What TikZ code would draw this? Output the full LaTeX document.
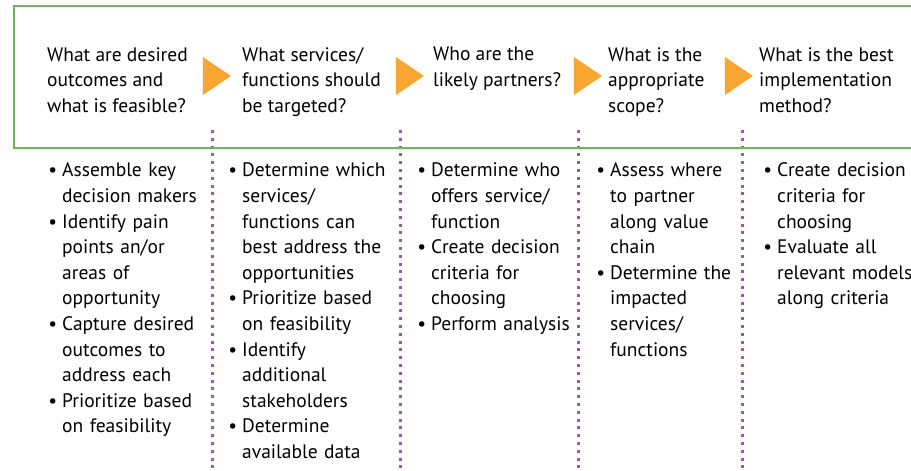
\documentclass[tikz,border=0pt]{standalone}
\usepackage{fontspec}
\setmainfont{PT Sans}
\usepackage{enumitem}
\usetikzlibrary{shapes.geometric, positioning}

\definecolor{framegreen}{RGB}{108,182,92}
\definecolor{stepsorange}{RGB}{247,166,50}
\definecolor{dividerpurple}{RGB}{155,85,175}

\setlist[itemize]{label=\textbullet, leftmargin=15pt, labelsep=5pt, itemsep=0pt, topsep=0pt, parsep=0pt, partopsep=0pt}

\begin{document}
\begin{tikzpicture}[
	x = 1pt, y = -1pt,
	question/.style = {anchor=north west, inner sep=0pt, align=left, font=\fontsize{19.5}{25.6}\selectfont},
	tasks/.style = {anchor=north west, inner sep=0pt, text width=#1, font=\fontsize{19.5}{25.6}\selectfont},
	pointer/.style = {isosceles triangle, isosceles triangle stretches, fill=stepsorange, inner sep=0pt, minimum width=38pt, minimum height=28pt},
	divider/.style = {draw=dividerpurple, line width=3pt, dash pattern=on 3pt off 4.8pt},
	frame/.style = {draw=framegreen, line width=2.5pt}
	]
	\useasboundingbox (0,0) rectangle (911,471);
	
	% Dividers
	\coordinate (d1top) at (212,130); \coordinate (d1bot) at (212,471);
	\coordinate (d2top) at (400,130); \coordinate (d2bot) at (400,471);
	\coordinate (d3top) at (578,130); \coordinate (d3bot) at (578,471);
	\coordinate (d4top) at (742,130); \coordinate (d4bot) at (742,471);
	\draw [divider] (d1top) -- (d1bot);
	\draw [divider] (d2top) -- (d2bot);
	\draw [divider] (d3top) -- (d3bot);
	\draw [divider] (d4top) -- (d4bot);
	
	% Frame
	\coordinate (ftr) at (915,6);
	\coordinate (fbr) at (915,148);
	\coordinate (ftl) at (14,6);
	\coordinate (fbl) at (14,148);
	\draw [frame] (ftr) -- (ftl) -- (fbl) -- (fbr);
	
	% Questions
	\node [question] (q1) at (47,47) {What are desired\\outcomes and\\what is feasible?};
	\node [question] (q2) at (242,47) {What services/\\functions should\\be targeted?};
	\node [question] (q3) at (433,47) {Who are the\\likely partners?};
	\node [question] (q4) at (608,47) {What is the\\appropriate\\scope?};
	\node [question] (q5) at (759,47) {What is the best\\implementation\\method?};
	
	% Pointers
	\node [pointer] (p1) at (213,76) {};
	\node [pointer] (p2) at (406,76) {};
	\node [pointer] (p3) at (584,76) {};
	\node [pointer] (p4) at (735,76) {};
	
	% Tasks
	\node [tasks=160pt] (t1) at (47,151) {\begin{itemize}
		\item Assemble key\\decision makers
		\item Identify pain\\points an/or\\areas of\\opportunity
		\item Capture desired\\outcomes to\\address each
		\item Prioritize based\\on feasibility
	\end{itemize}};
	\node [tasks=170pt] (t2) at (227,151) {\begin{itemize}
		\item Determine which\\services/\\functions can\\best address the\\opportunities
		\item Prioritize based\\on feasibility
		\item Identify\\additional\\stakeholders
		\item Determine\\available data
	\end{itemize}};
	\node [tasks=165pt] (t3) at (416,151) {\begin{itemize}
		\item Determine who\\offers service/\\function
		\item Create decision\\criteria for\\choosing
		\item Perform analysis
	\end{itemize}};
	\node [tasks=150pt] (t4) at (595,151) {\begin{itemize}
		\item Assess where\\to partner\\along value\\chain
		\item Determine the\\impacted\\services/\\functions
	\end{itemize}};
	\node [tasks=160pt] (t5) at (762,151) {\begin{itemize}
		\item Create decision\\criteria for\\choosing
		\item Evaluate all\\relevant models\\along criteria
	\end{itemize}};
\end{tikzpicture}
\end{document}
